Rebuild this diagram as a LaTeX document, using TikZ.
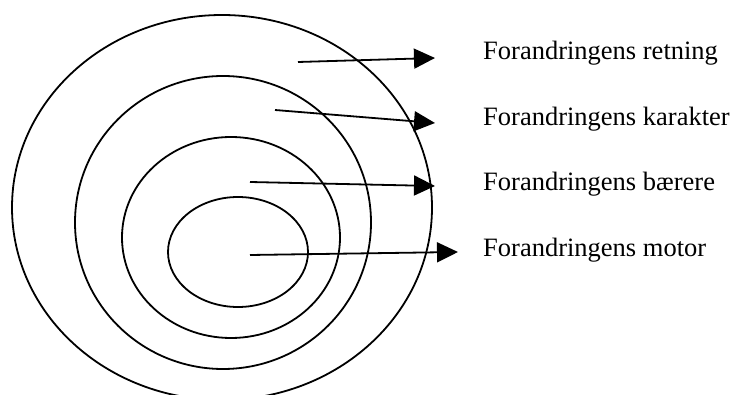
\documentclass[tikz,border=0pt]{standalone}
\usepackage{fontspec}
\setmainfont{Liberation Serif}
\usepackage{tikz}
\usetikzlibrary{shapes.geometric, arrows.meta, positioning}
\definecolor{ink}{HTML}{000000}
\tikzstyle{ring} = [ellipse, draw=ink, line width=1.8pt, inner sep=0pt]
\tikzstyle{caption} = [anchor=base west, inner sep=0pt, text=ink, font=\fontsize{26.5}{30}\selectfont]
\tikzstyle{pointer} = [line width=1.8pt, -{Triangle[length=21pt, width=20pt]}, color=ink]

\begin{document}
\begin{tikzpicture}[x=1pt, y=-1pt]
\useasboundingbox (0,0) rectangle (732,395);

% rings, outside in
\node (outer) [ring, minimum width=420pt, minimum height=385pt] at (222,207.5) {};
\node (middle) [ring, minimum width=296pt, minimum height=293pt] at (223,222.5) {};
\node (inner) [ring, minimum width=218pt, minimum height=201pt] at (231,237.5) {};
\node (core) [ring, minimum width=140pt, minimum height=110pt] at (238,252) {};

% labels
\node (retning) [caption] at (483,60) {Forandringens retning};
\node (karakter) [caption] at (483,126) {Forandringens karakter};
\node (baerere) [caption] at (483,191) {Forandringens bærere};
\node (motor) [caption] at (483,257) {Forandringens motor};

% arrow ends
\coordinate (from1) at (298,62);
\coordinate (to1) at (435,58);
\coordinate (from2) at (275,110);
\coordinate (to2) at (435,123);
\coordinate (from3) at (250,182);
\coordinate (to3) at (435,186);
\coordinate (from4) at (250,255);
\coordinate (to4) at (458,252);

\draw[pointer] (from1) -- (to1);
\draw[pointer] (from2) -- (to2);
\draw[pointer] (from3) -- (to3);
\draw[pointer] (from4) -- (to4);
\end{tikzpicture}
\end{document}
